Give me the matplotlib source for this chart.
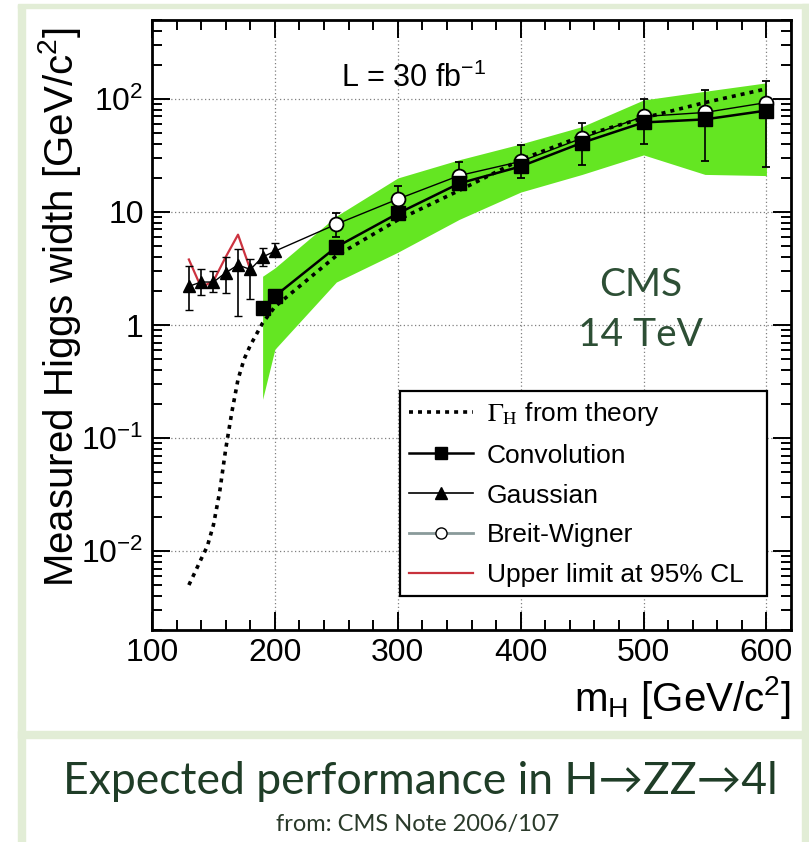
import matplotlib
matplotlib.use("Agg")
import matplotlib.pyplot as plt
from matplotlib.lines import Line2D
from matplotlib.patches import Rectangle
from matplotlib.ticker import FixedLocator, MultipleLocator, LogLocator, NullFormatter

plt.rcParams['font.family'] = 'Liberation Sans'
plt.rcParams['mathtext.fontset'] = 'custom'
plt.rcParams['mathtext.rm'] = 'Liberation Sans'
plt.rcParams['mathtext.it'] = 'Liberation Sans:italic'
plt.rcParams['mathtext.sf'] = 'Liberation Sans'

# theory width (dotted curve)
theory_mass = [130, 135, 140, 145, 150, 155, 160, 165, 170, 175, 180, 185, 190,
               200, 250, 300, 350, 400, 450, 500, 550, 600]
theory_width = [0.005, 0.0065, 0.0085, 0.011, 0.017, 0.033, 0.08, 0.17, 0.33,
                0.50, 0.66, 0.83, 1.04, 1.45, 4.1, 8.5, 15.5, 29, 47, 68, 93, 123]

# convolution fit
conv_mass = [190, 200, 250, 300, 350, 400, 450, 500, 550, 600]
conv_width = [1.41, 1.8, 4.9, 9.7, 17.9, 25.3, 41, 62, 66, 79]

# gaussian fit
gauss_mass = [130, 140, 150, 160, 170, 180, 190, 200]
gauss_width = [2.2, 2.4, 2.4, 2.9, 3.4, 3.1, 4.0, 4.5]
gauss_lo = [1.36, 1.84, 1.96, 1.9, 1.2, 1.7, 3.3, 4.1]
gauss_hi = [3.3, 3.1, 3.0, 4.0, 4.7, 3.8, 4.8, 5.3]

# breit-wigner fit
bw_mass = [250, 300, 350, 400, 450, 500, 550, 600]
bw_width = [7.8, 13, 21, 28, 45, 70, 76, 93]
bw_lo = [6.0, 10.5, 17.5, 20, 26, 40, 28, 25]
bw_hi = [9.7, 17, 27.5, 39, 61, 99, 121, 145]

# upper limit at 95% CL
limit_mass = [130, 140, 150, 160, 170, 180]
limit_width = [3.8, 2.15, 2.45, 4.0, 6.3, 3.1]

# green band
band_mass = [190, 200, 250, 300, 350, 400, 450, 500, 550, 600]
band_lo = [0.22, 0.61, 2.4, 4.4, 8.6, 15, 21.5, 32, 21.5, 21]
band_hi = [2.7, 3.2, 9.2, 20, 29, 40, 57, 98, 117, 139]

W, H = 809, 842
fig = plt.figure(figsize=(W / 100, H / 100), dpi=100)
fig.patch.set_facecolor('white')

# slide panel borders
pale = '#e2edd6'
for x0, y0, w, h in [(18, 5, 7, 837), (18, 4, 791, 4), (802, 4, 7, 838), (18, 731, 791, 7)]:
    fig.patches.append(Rectangle((x0 / W, 1 - (y0 + h) / H), w / W, h / H,
                                 transform=fig.transFigure, color=pale, zorder=0))

ax = fig.add_axes([152 / W, 1 - 630 / H, 639 / W, 610 / H])
ax.set_yscale('log')
ax.set_xlim(100, 620)
ax.set_ylim(0.002, 500)

ax.fill_between(band_mass, band_lo, band_hi, color='#64e622', lw=0, zorder=1)

ax.plot(theory_mass, theory_width, color='k', lw=2.6, ls=(0, (1.1, 1.4)), zorder=3)
ax.plot(limit_mass, limit_width, color='#cc3340', lw=1.6, zorder=4)

gerr = [[w - l for w, l in zip(gauss_width, gauss_lo)],
        [h - w for w, h in zip(gauss_width, gauss_hi)]]
ax.errorbar(gauss_mass, gauss_width, yerr=gerr, fmt='^-', color='k', ms=9,
            lw=1.0, elinewidth=1.2, capsize=3, zorder=5)

# thin line joining the gaussian to the breit-wigner points
ax.plot([gauss_mass[-1]] + bw_mass, [gauss_width[-1]] + bw_width, color='k', lw=1.0, zorder=4)
berr = [[w - l for w, l in zip(bw_width, bw_lo)],
        [h - w for w, h in zip(bw_width, bw_hi)]]
ax.errorbar(bw_mass, bw_width, yerr=berr, fmt='o', mfc='white', mec='k', mew=1.3,
            ms=10, ecolor='k', elinewidth=1.2, capsize=3, zorder=5)

ax.plot(conv_mass, conv_width, 's-', color='k', ms=10.5, lw=1.8, zorder=6)

# axes styling
for s in ax.spines.values():
    s.set_linewidth(2)
ax.xaxis.set_major_locator(FixedLocator([100, 200, 300, 400, 500, 600]))
ax.xaxis.set_minor_locator(MultipleLocator(20))
ax.yaxis.set_major_locator(FixedLocator([0.01, 0.1, 1, 10, 100]))
ax.yaxis.set_minor_locator(LogLocator(base=10, subs=range(2, 10), numticks=20))
ax.yaxis.set_minor_formatter(NullFormatter())
ax.set_yticklabels([r'$\mathrm{10^{-2}}$', r'$\mathrm{10^{-1}}$', '1', '10', r'$\mathrm{10^{2}}$'])
ax.tick_params(which='both', direction='in', top=True, right=True, width=1.4, labelsize=23)
ax.tick_params(which='major', length=13, pad=6)
ax.tick_params(which='minor', length=7)
ax.grid(which='major', ls=(0, (1, 2)), color='#808080', lw=0.9)
ax.set_axisbelow(True)

ax.set_ylabel(r'Measured Higgs width [GeV/c$^{2}$]', fontsize=29)
ax.yaxis.set_label_coords(-0.108, 0.53)
ax.set_xlabel(r'm$_{\mathrm{H}}$ [GeV/c$^{2}$]', fontsize=29, loc='right', labelpad=4)

ax.text(0.41, 0.905, r'L = 30 fb$^{\mathrm{-1}}$', transform=ax.transAxes,
        fontsize=22, ha='center', va='center')
ax.text(0.765, 0.565, 'CMS', transform=ax.transAxes, fontsize=28,
        ha='center', va='center', color='#2d4f35', family=['Lato', 'DejaVu Sans'])
ax.text(0.765, 0.483, '14 TeV', transform=ax.transAxes, fontsize=28,
        ha='center', va='center', color='#2d4f35', family=['Lato', 'DejaVu Sans'])

handles = [
    Line2D([], [], color='k', lw=2.6, ls=(0, (1.1, 1.4))),
    Line2D([], [], color='k', lw=1.8, marker='s', ms=9),
    Line2D([], [], color='k', lw=1.2, marker='^', ms=8),
    Line2D([], [], color='#8a9a9a', lw=2, marker='o', ms=8, mfc='white', mec='k'),
    Line2D([], [], color='#c8323c', lw=1.6),
]
labels = [r'$\Gamma_{\mathrm{H}}$ from theory', 'Convolution', 'Gaussian',
          'Breit-Wigner', 'Upper limit at 95% CL']
leg = ax.legend(handles, labels, loc='lower left', bbox_to_anchor=(0.388, 0.055, 0.574, 0.34),
                mode='expand', fontsize=19, handlelength=2.4, handletextpad=0.55,
                labelspacing=0.6, borderpad=0.35, borderaxespad=0, fancybox=False,
                framealpha=1, edgecolor='k')
leg.get_frame().set_linewidth(1.6)
leg.set_zorder(10)
leg.get_texts()[0].set_math_fontfamily('stix')

fig.text(420 / W, 1 - 782 / H, 'Expected performance in H\u2192ZZ\u21924l', fontsize=32,
         ha='center', va='center', color='#1f3d27', family=['Lato', 'DejaVu Sans'])
fig.text(418 / W, 1 - 825 / H, 'from: CMS Note 2006/107', fontsize=17,
         ha='center', va='center', color='#2a3a2a', family=['Lato', 'DejaVu Sans'])

fig.savefig('out.png', dpi=100)
